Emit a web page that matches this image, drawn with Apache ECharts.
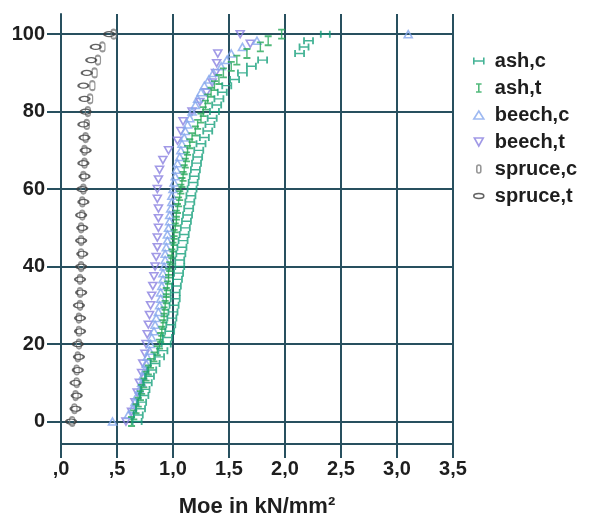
<!DOCTYPE html>
<html>
<head>
<meta charset="utf-8">
<script src="https://cdn.jsdelivr.net/npm/echarts@6/dist/echarts.min.js"></script>
<style>
html,body{margin:0;padding:0;background:#fff;}
#chart{width:591px;height:520px;}
</style>
</head>
<body>
<div id="chart"></div>
<script>
// ---- data (cumulative percentage vs Moe) ----
const seriesNames = ['ash,c', 'ash,t', 'beech,c', 'beech,t', 'spruce,c', 'spruce,t'];

const pctFine = [0, 1.7, 3.3, 5, 6.7, 8.3, 10, 11.7, 13.3, 15, 16.7, 18.3, 20, 21.7, 23.3, 25, 26.7, 28.3, 30, 31.7,
  33.3, 35, 36.7, 38.3, 40, 41.7, 43.3, 45, 46.7, 48.3, 50, 51.7, 53.3, 55, 56.7, 58.3, 60, 61.7, 63.3, 65,
  66.7, 68.3, 70, 71.7, 73.3, 75, 76.7, 78.3, 80, 81.7, 83.3, 85, 86.7, 88.3, 90, 91.7, 93.3, 95, 96.7, 98.3, 100];

const ashC = [0.68, 0.69, 0.71, 0.72, 0.74, 0.75, 0.77, 0.79, 0.81, 0.84, 0.88, 0.91, 0.94, 0.95, 0.97, 0.98, 0.99, 1.00, 1.01, 1.02,
  1.02, 1.03, 1.04, 1.05, 1.06, 1.06, 1.07, 1.08, 1.09, 1.10, 1.11, 1.12, 1.13, 1.14, 1.15, 1.16, 1.17, 1.18, 1.19, 1.20,
  1.21, 1.22, 1.23, 1.25, 1.28, 1.31, 1.33, 1.35, 1.37, 1.39, 1.41, 1.44, 1.48, 1.55, 1.62, 1.70, 1.80, 2.13, 2.17, 2.21, 2.36];

const ashT = [0.63, 0.65, 0.67, 0.69, 0.71, 0.72, 0.74, 0.76, 0.78, 0.80, 0.83, 0.86, 0.88, 0.89, 0.90, 0.91, 0.92, 0.92, 0.93, 0.94,
  0.94, 0.95, 0.96, 0.96, 0.97, 0.98, 0.99, 1.00, 1.01, 1.01, 1.02, 1.03, 1.03, 1.04, 1.05, 1.06, 1.07, 1.08, 1.09, 1.10,
  1.11, 1.12, 1.13, 1.15, 1.17, 1.20, 1.22, 1.25, 1.27, 1.29, 1.31, 1.34, 1.37, 1.41, 1.45, 1.52, 1.57, 1.66, 1.78, 1.85, 1.97];

const beechC = [0.46, 0.60, 0.64, 0.66, 0.68, 0.70, 0.72, 0.73, 0.75, 0.76, 0.77, 0.79, 0.80, 0.81, 0.83, 0.84, 0.85, 0.87, 0.88, 0.89,
  0.89, 0.90, 0.91, 0.91, 0.92, 0.93, 0.93, 0.94, 0.95, 0.95, 0.96, 0.97, 0.97, 0.98, 0.99, 0.99, 1.00, 1.01, 1.02, 1.03,
  1.04, 1.06, 1.07, 1.08, 1.10, 1.11, 1.13, 1.15, 1.17, 1.20, 1.22, 1.25, 1.28, 1.32, 1.36, 1.43, 1.48, 1.52, 1.62, 1.75, 3.10];

const pctCoarse = [0, 2.5, 5, 7.5, 10, 12.5, 15, 17.5, 20, 22.5, 25, 27.5, 30, 32.5, 35, 37.5, 40, 42.5, 45, 47.5, 50,
  52.5, 55, 57.5, 60, 62.5, 65, 67.5, 70, 72.5, 75, 77.5, 80, 82.5, 85, 87.5, 90, 92.5, 95, 97.5, 100];

const beechT = [0.58, 0.63, 0.66, 0.68, 0.70, 0.72, 0.73, 0.75, 0.76, 0.77, 0.78, 0.79, 0.80, 0.81, 0.82, 0.83, 0.84, 0.85, 0.86, 0.86, 0.87,
  0.87, 0.87, 0.86, 0.86, 0.87, 0.88, 0.91, 0.96, 1.04, 1.07, 1.09, 1.17, 1.24, 1.30, 1.35, 1.38, 1.39, 1.40, 1.69, 1.60];

const pctSoft = [0, 3.3, 6.7, 10, 13.3, 16.7, 20, 23.3, 26.7, 30, 33.3, 36.7, 40, 43.3, 46.7, 50, 53.3, 56.7, 60, 63.3,
  66.7, 70, 73.3, 76.7, 80, 83.3, 86.7, 90, 93.3, 96.7, 100];

const spruceC = [0.10, 0.12, 0.13, 0.14, 0.14, 0.15, 0.16, 0.16, 0.16, 0.17, 0.17, 0.17, 0.18, 0.18, 0.18, 0.18, 0.19, 0.19, 0.20, 0.20,
  0.21, 0.21, 0.22, 0.23, 0.24, 0.26, 0.28, 0.30, 0.33, 0.37, 0.47];

const spruceT = [0.09, 0.13, 0.14, 0.13, 0.15, 0.16, 0.15, 0.17, 0.17, 0.16, 0.18, 0.17, 0.18, 0.19, 0.18, 0.19, 0.18, 0.20, 0.19, 0.21,
  0.20, 0.22, 0.21, 0.20, 0.22, 0.21, 0.20, 0.23, 0.27, 0.31, 0.43];

const xTicks = [0, 0.5, 1, 1.5, 2, 2.5, 3, 3.5];
const yTicks = [0, 20, 40, 60, 80, 100];

// ---- styling ----
const FONT = '"Liberation Sans", Arial, Helvetica, sans-serif';
const GRID = '#28505f';
const TXT = '#1e1e1e';

const styles = {
  'ash,c':    {symbol: 'path://M0,0L0,7M0,3.5L10,3.5M10,0L10,7', size: [9, 7], color: '#16a07c'},
  'ash,t':    {symbol: 'path://M0,0L7,0M3.5,0L3.5,10M0,10L7,10', size: [7, 9], color: '#27a85a'},
  'beech,c':  {symbol: 'triangle', size: [8, 7], color: '#86a8ee'},
  'beech,t':  {symbol: 'path://M0,0L10,0L5,9Z', size: [8, 7], color: '#8a7fe0'},
  'spruce,c': {symbol: 'path://M0,3A3,3 0 0,1 6,3L6,9A3,3 0 0,1 0,9Z', size: [5, 9], color: '#7d7d7d'},
  'spruce,t': {symbol: 'path://M0,3A6,3 0 1,1 12,3A6,3 0 1,1 0,3Z', size: [10, 5], color: '#3c3c3c'}
};

function pairs(xs, ys) { return xs.map((x, i) => [x, ys[i]]); }
const dataMap = {
  'ash,c': pairs(ashC, pctFine),
  'ash,t': pairs(ashT, pctFine),
  'beech,c': pairs(beechC, pctFine),
  'beech,t': pairs(beechT, pctCoarse),
  'spruce,c': pairs(spruceC, pctSoft),
  'spruce,t': pairs(spruceT, pctSoft)
};

const drawOrder = ['spruce,c', 'spruce,t', 'beech,t', 'beech,c', 'ash,t', 'ash,c'];
const series = drawOrder.map(n => ({
  name: n,
  type: 'scatter',
  symbol: styles[n].symbol,
  symbolSize: styles[n].size,
  data: dataMap[n],
  itemStyle: {color: 'rgba(0,0,0,0)', borderColor: styles[n].color, borderWidth: 1.6},
  emphasis: {disabled: true}
}));

const chart = echarts.init(document.getElementById('chart'), null, {renderer: 'canvas'});
chart.setOption({
  animation: false,
  backgroundColor: '#ffffff',
  grid: {left: 61, right: 138, top: 14, bottom: 76, outerBoundsMode: 'none', containLabel: false},
  legend: {
    orient: 'vertical',
    left: 468,
    top: 46,
    itemWidth: 10,
    itemHeight: 8,
    itemGap: 7,
    data: seriesNames.map(n => ({
      name: n,
      icon: styles[n].symbol,
      itemStyle: {color: 'rgba(0,0,0,0)', borderColor: styles[n].color, borderWidth: 1.6}
    })),
    textStyle: {fontFamily: FONT, fontSize: 20, fontWeight: 'bold', color: TXT, lineHeight: 20, padding: [0, 0, 0, 6]}
  },
  xAxis: {
    type: 'value',
    min: xTicks[0],
    max: xTicks[xTicks.length - 1],
    interval: 0.5,
    name: 'Moe in kN/mm²',
    nameLocation: 'middle',
    nameGap: 52,
    nameTextStyle: {fontFamily: FONT, fontSize: 22, fontWeight: 'bold', color: TXT},
    axisLine: {show: true, onZero: false, lineStyle: {color: GRID, width: 2}},
    axisTick: {show: true, inside: false, length: 14, lineStyle: {color: GRID, width: 2}},
    axisLabel: {
      fontFamily: FONT, fontSize: 20, fontWeight: 'bold', color: TXT, margin: 15,
      formatter: v => { let s = v.toFixed(1).replace('.', ','); if (s.charAt(0) === '0') s = s.slice(1); return s; }
    },
    splitLine: {show: true, lineStyle: {color: GRID, width: 2}}
  },
  yAxis: {
    type: 'value',
    min: -5.8,
    max: 105.2,
    splitNumber: 5,
    axisLine: {show: true, onZero: false, lineStyle: {color: GRID, width: 2}},
    axisTick: {show: true, inside: false, length: 14, customValues: yTicks, lineStyle: {color: GRID, width: 2}},
    axisLabel: {customValues: yTicks, fontFamily: FONT, fontSize: 20, fontWeight: 'bold', color: TXT, margin: 16},
    splitLine: {show: true, lineStyle: {color: GRID, width: 2}}
  },
  series: series
});
</script>
</body>
</html>
